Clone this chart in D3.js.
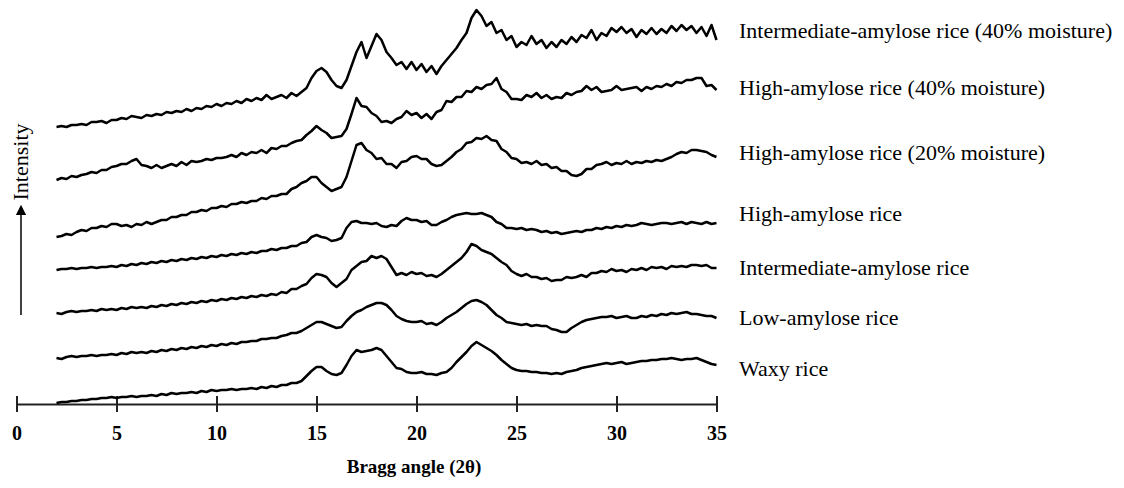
<!DOCTYPE html>
<html>
<head>
<meta charset="utf-8">
<script src="https://cdn.jsdelivr.net/npm/d3@7"></script>
<style>
  body { margin: 0; background: #fff; }
  text { font-family: "Liberation Serif", "Times New Roman", serif; fill: #000; }
</style>
</head>
<body>
<div id="xrd"></div>
<script>
// diffraction angle grid, 2θ from 2 to 35 in 0.25 steps
var angles = d3.range(0, 133).map(function (i) { return 2 + i * 0.25; });

var samples = [
  "Intermediate-amylose rice (40% moisture)",
  "High-amylose rice (40% moisture)",
  "High-amylose rice (20% moisture)",
  "High-amylose rice",
  "Intermediate-amylose rice",
  "Low-amylose rice",
  "Waxy rice"
];

// intensities (a.u., traces already stacked)
var interAmylose40 = [
  277,278,277,279, 279,280,279,282, 282,283,281,284, 284,286,285,288, 287,286,289,288,
  290,289,292,291, 293,292,295,293, 296,295,298,297, 300,298,301,300, 303,301,305,303,
  306,304,309,305, 307,309,306,311, 308,312,316,326, 333,336,332,324, 318,316,324,338,
  352,362,346,358, 370,364,352,346, 339,342,335,342, 334,340,332,338, 330,338,344,350,
  356,364,371,386, 394,388,378,382, 371,374,364,368, 357,362,359,368, 360,364,356,362,
  357,364,360,367, 362,369,366,374, 364,371,368,376, 372,377,371,375, 367,374,370,376,
  370,375,371,378, 373,379,374,378, 371,377,368,379, 364
];
var highAmylose40 = [
  224,226,225,228, 227,229,230,232, 231,234,234,237, 238,240,240,243, 245,239,238,236,
  239,236,238,240, 238,242,239,243, 242,243,245,244, 246,246,247,249, 247,251,249,252,
  251,254,251,256, 255,258,258,261, 263,264,269,273, 278,274,271,266, 267,268,275,290,
  306,298,297,291, 288,282,283,281, 285,287,293,289, 291,286,290,285, 292,294,303,302,
  307,307,313,312, 317,315,319,320, 326,315,312,305, 305,304,309,307, 311,306,309,305,
  307,306,311,309, 312,313,318,314, 317,312,313,314, 318,314,315,316, 317,313,317,315,
  318,317,320,318, 322,321,324,324, 326,326,318,319, 314
];
var highAmylose20 = [
  167,168,170,169, 172,174,173,176, 176,178,177,180, 180,178,179,177, 180,179,182,180,
  182,184,184,187, 187,189,189,192, 192,194,193,196, 196,198,197,200, 200,202,201,203,
  203,206,205,208, 208,210,210,215, 217,221,223,227, 227,221,217,213, 215,217,227,243,
  259,261,254,251, 245,246,240,240, 236,242,243,247, 248,245,245,240, 238,239,243,247,
  252,255,261,262, 266,265,268,264, 263,255,252,246, 245,241,242,240, 243,239,240,236,
  237,233,233,229, 228,230,235,235, 239,240,242,239, 241,240,243,240, 242,241,243,242,
  244,243,245,247, 250,252,251,254, 254,253,252,249, 247
];
var highAmylose = [
  134,135,135,136, 135,136,136,137, 136,137,137,138, 137,139,138,140, 139,141,140,142,
  141,143,142,144, 143,145,144,146, 145,147,146,148, 147,149,148,150, 149,151,150,152,
  151,153,153,155, 154,156,156,158, 158,161,162,167, 169,167,166,163, 164,166,176,182,
  183,181,181,180, 181,178,177,179, 178,183,186,184, 184,182,183,179, 179,182,184,187,
  189,190,191,190, 190,191,189,187, 182,180,176,176, 175,176,174,175, 174,172,173,171,
  172,170,171,172, 173,172,174,174, 176,175,177,176, 178,177,179,178, 179,181,180,179,
  180,181,181,180, 181,182,180,182, 181,180,182,180, 181
];
var interAmylose = [
  91,90,92,93, 92,93,93,94, 93,95,94,95, 94,96,95,97, 96,97,96,98,
  97,99,98,100, 99,101,100,102, 101,103,102,104, 103,105,104,106, 105,107,106,108,
  107,109,108,110, 109,112,111,115, 115,118,120,126, 130,129,127,121, 117,121,125,134,
  138,142,143,148, 146,148,145,137, 129,131,129,132, 130,131,128,129, 127,130,134,138,
  142,146,152,160, 158,154,152,150, 146,142,139,133, 130,128,130,127, 127,125,126,123,
  124,124,127,126, 127,129,127,131, 131,133,132,135, 133,134,132,135, 134,136,134,137,
  136,137,135,138, 137,138,137,139, 139,138,139,136, 136
];
var lowAmylose = [
  46,45,47,48, 47,48,48,49, 48,49,49,50, 49,51,50,52, 51,52,51,53,
  52,54,53,55, 54,56,55,57, 56,58,57,59, 58,60,59,61, 60,62,62,63,
  63,65,65,66, 66,68,69,71, 71,73,76,79, 82,82,80,78, 76,77,83,88,
  92,94,97,99, 101,101,99,94, 88,85,83,82, 82,83,80,81, 79,82,86,89,
  92,96,100,103, 104,102,99,94, 89,86,82,81, 80,79,80,78, 79,78,78,75,
  74,72,72,76, 79,82,84,85, 86,87,87,88, 86,87,88,86, 86,88,87,89,
  88,90,89,91, 90,91,92,90, 90,89,88,88, 86
];
var waxy = [
  1,2,2,3, 3,4,4,5, 5,6,6,7, 6,7,7,8, 7,8,8,9,
  8,10,9,11, 10,11,11,12, 11,13,12,14, 13,14,14,15, 14,15,15,16,
  15,17,16,18, 17,19,19,21, 21,23,28,33, 37,37,33,30, 29,31,39,48,
  54,52,53,54, 56,54,48,42, 36,35,32,31, 31,32,30,30, 29,31,32,36,
  42,47,52,58, 62,59,56,53, 49,44,40,36, 34,33,33,32, 32,31,31,30,
  31,30,32,33, 34,36,37,38, 39,40,41,40, 41,42,40,41, 42,43,43,44,
  44,45,45,46, 45,44,45,45, 46,44,42,40, 39
];

var series = [interAmylose40, highAmylose40, highAmylose20, highAmylose,
              interAmylose, lowAmylose, waxy];

var xTicks = [0, 5, 10, 15, 20, 25, 30, 35];

// layout
var width = 1124, height = 488;
var labelX = 739;
var labelBaselines = [38, 95, 160, 221, 275, 325, 376];

var svg = d3.select('div#xrd')
            .append('svg')
            .attr('width', width)
            .attr('height', height);

var xScale = d3.scaleLinear()
               .domain([0, 35])
               .range([16.5, 716.5]);

var yScale = d3.scaleLinear()
               .domain([0, 400])
               .range([404, 4]);

var xAxis = d3.axisBottom(xScale)
              .tickValues(xTicks)
              .tickSize(8)
              .tickSizeOuter(0)
              .tickPadding(14);

var gx = svg.append('g')
   .attr('transform', 'translate(0, 404)')
   .call(xAxis);

gx.select('.domain').attr('stroke', '#222').attr('stroke-width', 2);
gx.selectAll('.tick line')
  .attr('y1', -8)
  .attr('stroke', '#222')
  .attr('stroke-width', 2);
gx.selectAll('.tick text')
  .attr('font-family', '"Liberation Serif", "Times New Roman", serif')
  .attr('font-size', 20)
  .attr('font-weight', 'bold')
  .attr('fill', '#000');

svg.append('text')
   .attr('x', 414)
   .attr('y', 473)
   .attr('text-anchor', 'middle')
   .style('font-size', '19px')
   .style('font-weight', 'bold')
   .text('Bragg angle (2\u03b8)');

// Intensity label with arrow
svg.append('defs').append('marker')
   .attr('id', 'head')
   .attr('viewBox', '0 0 10 10')
   .attr('refX', 5).attr('refY', 5)
   .attr('markerWidth', 7).attr('markerHeight', 9)
   .attr('orient', 'auto')
   .append('path')
   .attr('d', 'M0,0 L10,5 L0,10 z')
   .attr('fill', '#000');

svg.append('line')
   .attr('x1', 21).attr('x2', 21)
   .attr('y1', 315).attr('y2', 210)
   .attr('stroke', '#000')
   .attr('stroke-width', 1.5)
   .attr('marker-end', 'url(#head)');

svg.append('text')
   .attr('transform', 'translate(28, 162) rotate(-90)')
   .attr('text-anchor', 'middle')
   .style('font-size', '22px')
   .text('Intensity');

var line = d3.line()
             .x(function (d, i) { return xScale(angles[i]); })
             .y(function (d) { return yScale(d); });

svg.selectAll('path.trace')
   .data(series)
   .enter()
   .append('path')
   .attr('class', 'trace')
   .attr('d', line)
   .attr('fill', 'none')
   .attr('stroke', '#000')
   .attr('stroke-width', 2.5)
   .attr('stroke-linejoin', 'round');

svg.selectAll('text.label')
   .data(samples)
   .enter()
   .append('text')
   .attr('class', 'label')
   .attr('x', labelX)
   .attr('y', function (d, i) { return labelBaselines[i]; })
   .style('font-size', '22px')
   .text(function (d) { return d; });
</script>
</body>
</html>
